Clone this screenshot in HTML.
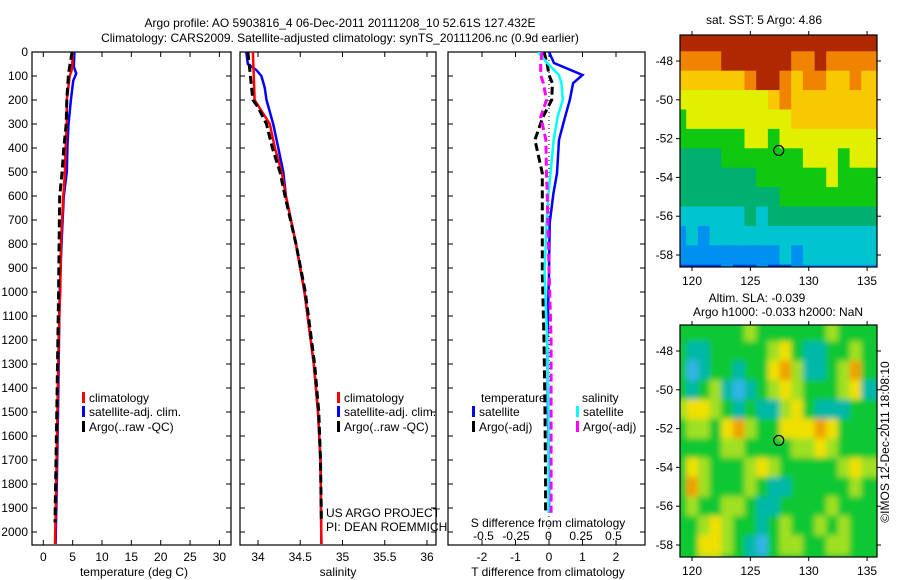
<!DOCTYPE html>
<html><head><meta charset="utf-8"><style>
html,body{margin:0;padding:0;background:#fff;}
svg{display:block;font-family:"Liberation Sans",sans-serif;}
text{font-size:12px;fill:#000;}
</style></head><body>
<svg id="fig" width="900" height="580" viewBox="0 0 900 580" xmlns="http://www.w3.org/2000/svg">
<defs>
<clipPath id="c1"><rect x="32" y="52" width="199" height="493"/></clipPath>
<clipPath id="c2"><rect x="240" y="52" width="196" height="493"/></clipPath>
<clipPath id="c3"><rect x="448" y="52" width="197" height="493"/></clipPath>
<clipPath id="cm1"><rect x="680" y="35" width="197" height="232"/></clipPath>
<clipPath id="cm2"><rect x="680" y="325" width="197" height="232"/></clipPath>
<filter id="blur" x="-5%" y="-5%" width="110%" height="110%"><feGaussianBlur stdDeviation="3"/></filter>
</defs>
<text x="340" y="27" text-anchor="middle">Argo profile: AO 5903816_4 06-Dec-2011 20111208_10 52.61S 127.432E</text>
<text x="340" y="42" text-anchor="middle">Climatology: CARS2009. Satellite-adjusted climatology: synTS_20111206.nc (0.9d earlier)</text>
<g id="root"></g>
</svg>
<script>
// ---------- data ----------
const tDepthClim = [0,70,100,200,300,400,500,600,800,1000,1050,1200,1500,1800,2050];
const tClim      = [5.0,4.9,4.5,4.0,4.0,3.8,3.7,3.4,3.0,2.9,2.8,2.6,2.4,2.2,2.0];
const tDepthSat  = [0,60,90,120,200,300,400,500,600,800,1000,1500,1800,2050];
const tSat       = [5.3,5.2,5.6,5.1,4.7,4.3,4.1,4.0,3.5,3.1,2.8,2.5,2.3,2.1];
const tDepthArgo = [0,90,200,300,400,500,600,800,1000,1500,1800,1960];
const tArgo      = [4.9,4.3,4.0,3.9,3.5,3.2,2.8,2.7,2.6,2.3,2.1,2.0];

const sDepthClim = [0,100,200,250,300,400,500,600,800,1000,1300,1500,1700,2050];
const sClim      = [33.94,33.95,33.96,34.05,34.14,34.20,34.28,34.33,34.45,34.55,34.66,34.71,34.74,34.75];
const sDepthSat  = [0,50,75,100,150,200,300,400,500,600,800,1000,1300,1500,1700,2050];
const sSat       = [33.86,33.88,33.98,34.04,34.08,34.10,34.18,34.24,34.30,34.33,34.45,34.55,34.66,34.71,34.74,34.75];
const sDepthArgo = [0,100,200,230,300,400,500,600,800,1000,1300,1500,1700,1960];
const sArgo      = [33.88,33.91,33.94,34.0,34.10,34.17,34.26,34.32,34.45,34.56,34.67,34.72,34.74,34.75];

const dDepth     = [0,46,96,130,200,270,366,505,590,713,920,1200,1500,1800,1920];
const dTSat      = [0.0,0.15,1.0,0.72,0.62,0.48,0.30,0.24,0.13,0.02,0.0,-0.05,-0.03,0.0,0.0];
const dTArgo     = [-0.15,-0.06,0.0,0.1,0.08,-0.18,-0.42,-0.2,-0.2,-0.2,-0.2,-0.15,-0.12,-0.1,-0.1];
const dSSat      = [-0.08,-0.01,0.08,0.10,0.11,0.07,0.04,0.015,0.0,-0.015,-0.03,-0.01,0.0,0.0,0.0];
const dSArgo     = [-0.05,-0.06,-0.06,-0.04,-0.015,-0.06,-0.02,-0.015,-0.01,-0.005,0.005,0.02,0.02,0.02,0.02];

const depthTicks = [0,100,200,300,400,500,600,700,800,900,1000,1100,1200,1300,1400,1500,1600,1700,1800,1900,2000];
const tempTicks = [0,5,10,15,20,25,30];
const salTicks = [34,34.5,35,35.5,36];
const salTickLabels = ["34","34.5","35","35.5","36"];
const tdTicks = [-2,-1,0,1,2];
const sdTicks = [-0.5,-0.25,0,0.25,0.5];
const sdTickLabels = ["-0.5","-0.25","0","0.25","0.5"];
const lonTicks = [120,125,130,135];
const latTicks = [-48,-50,-52,-54,-56,-58];
const argoLon = 127.43, argoLat = -52.61;

const sstGrid = [
[9,9,9,9,9,9,9,9,9,9,9,9,9,9,9,9,9],
[8,8,8,8,9,9,9,9,9,9,8,8,9,8,8,8,8],
[7,7,7,7,7,7,8,9,9,8,7,8,8,7,7,8,7],
[6,6,6,6,6,6,6,6,7,8,7,7,7,7,7,7,7],
[5,6,6,6,6,6,6,6,6,6,7,7,7,7,7,7,7],
[5,5,5,5,5,5,6,6,5,6,6,6,6,6,6,6,6],
[4,4,4,4,5,5,5,5,5,5,5,6,6,6,5,6,6],
[4,4,4,4,4,4,4,5,5,5,5,5,5,6,5,5,5],
[4,4,4,4,4,4,4,4,4,5,5,5,5,5,5,5,5],
[3,3,3,3,3,3,4,3,4,4,4,4,4,4,4,4,4],
[2,3,2,3,3,3,3,3,3,3,3,3,3,3,3,3,3],
[2,2,2,2,2,2,2,2,2,3,2,3,3,3,3,3,3],
[1,1,1,1,2,1,1,2,1,1,2,2,2,2,2,2,2],
[1,1,0,1,1,1,1,1,0,1,1,1,1,1,1,1,1]
];
const sstColors = ["#00109a","#0040e0","#0090f0","#00c4d0","#00b070","#10c810","#e0f000","#f8c800","#f08400","#b02800"];

const slaGrid = [
[2,2,2,2,2,2,3,2,2,2,2,2,2,3,2,2,2],
[2,1,1,2,2,2,2,2,3,4,2,1,1,2,2,3,2],
[2,0,1,2,2,1,2,2,4,5,3,1,1,2,3,5,2],
[2,1,2,3,1,0,1,2,3,4,3,2,2,2,3,4,1],
[3,4,4,3,2,1,2,1,1,3,4,2,1,1,1,2,2],
[2,3,3,2,4,5,3,2,2,4,4,4,5,4,2,2,2],
[2,2,2,2,3,3,2,2,2,2,3,3,4,3,2,2,2],
[2,4,3,2,2,2,3,4,3,2,2,2,2,2,3,4,3],
[2,5,3,2,2,2,3,2,1,1,2,2,2,2,2,3,2],
[2,3,2,2,3,3,2,1,1,2,2,2,2,3,2,2,2],
[2,2,3,4,3,2,2,1,2,3,2,2,3,2,3,2,2],
[2,2,4,4,3,2,1,0,2,3,3,2,2,3,3,2,2],
[2,2,3,3,2,2,1,1,2,2,2,2,2,2,2,2,2]
];
const slaColors = ["#30b4e8","#00b8a8","#10c830","#a0e020","#f0e000","#f0a000"];

// ---------- helpers ----------
const NS="http://www.w3.org/2000/svg";
const root=document.getElementById('root');
function mk(tag,attrs,parent){const e=document.createElementNS(NS,tag);for(const k in attrs)e.setAttribute(k,attrs[k]);(parent||root).appendChild(e);return e;}
const yDepth=d=>52+d*0.24;
const xT=v=>43.3+v*5.87;
const xS=v=>258+(v-34)*84.5;
const xTD=v=>549+v*33.5;
const xSD=v=>548.5+v*130;

function drawLine(xs,ds,xf,color,w,dash,clip,name){
  let p='';for(let i=0;i<xs.length;i++){p+=(i?'L':'M')+xf(xs[i]).toFixed(1)+' '+yDepth(ds[i]).toFixed(1);}
  const e=mk('path',{d:p,fill:'none',stroke:color,'stroke-width':w,'clip-path':'url(#'+clip+')'});
  if(dash)e.setAttribute('stroke-dasharray',dash);
  
  
}
function panelFrame(x0,x1,name){
  const r=mk('rect',{x:x0,y:52,width:x1-x0,height:493,fill:'none',stroke:'#000','stroke-width':1.2});
  
  
}
function text(x,y,s,anchor,name){
  const t=mk('text',{x:x,y:y,'text-anchor':anchor||'start'});t.textContent=s;
  
  
  return t;
}

// ---------- panel 1 ----------
panelFrame(32,231,'temperature-panel');
depthTicks.forEach(d=>{
  mk('line',{x1:32,x2:37,y1:yDepth(d),y2:yDepth(d),stroke:'#000'});
  mk('line',{x1:226,x2:231,y1:yDepth(d),y2:yDepth(d),stroke:'#000'});
  text(28,yDepth(d)+4,String(d),'end','depth-tick-label');
});
tempTicks.forEach(v=>{
  mk('line',{x1:xT(v),x2:xT(v),y1:540,y2:545,stroke:'#000'});
  mk('line',{x1:xT(v),x2:xT(v),y1:52,y2:57,stroke:'#000'});
  text(xT(v),561,String(v),'middle','temp-tick-label');
});
text(134,576,'temperature (deg C)','middle','temperature-axis-title');
drawLine(tSat,tDepthSat,xT,'#0000ff',2.5,null,'c1','temp-satellite-line');
drawLine(tClim,tDepthClim,xT,'#ff0000',2.5,null,'c1','temp-climatology-line');
drawLine(tArgo,tDepthArgo,xT,'#000',3,'8,4','c1','temp-argo-line');

// ---------- panel 2 ----------
panelFrame(240,436,'salinity-panel');
depthTicks.forEach(d=>{
  mk('line',{x1:240,x2:245,y1:yDepth(d),y2:yDepth(d),stroke:'#000'});
  mk('line',{x1:431,x2:436,y1:yDepth(d),y2:yDepth(d),stroke:'#000'});
});
salTicks.forEach((v,i)=>{
  mk('line',{x1:xS(v),x2:xS(v),y1:540,y2:545,stroke:'#000'});
  mk('line',{x1:xS(v),x2:xS(v),y1:52,y2:57,stroke:'#000'});
  text(xS(v),561,salTickLabels[i],'middle','salinity-tick-label');
});
text(338,576,'salinity','middle','salinity-axis-title');
drawLine(sSat,sDepthSat,xS,'#0000ff',2.5,null,'c2','salinity-satellite-line');
drawLine(sClim,sDepthClim,xS,'#ff0000',2.5,null,'c2','salinity-climatology-line');
drawLine(sArgo,sDepthArgo,xS,'#000',3,'8,4','c2','salinity-argo-line');

// ---------- panel 3 ----------
panelFrame(448,645,'difference-panel');
depthTicks.forEach(d=>{
  mk('line',{x1:448,x2:453,y1:yDepth(d),y2:yDepth(d),stroke:'#000'});
  mk('line',{x1:640,x2:645,y1:yDepth(d),y2:yDepth(d),stroke:'#000'});
});
tdTicks.forEach(v=>{
  mk('line',{x1:xTD(v),x2:xTD(v),y1:540,y2:545,stroke:'#000'});
  mk('line',{x1:xTD(v),x2:xTD(v),y1:52,y2:57,stroke:'#000'});
  text(xTD(v),561,String(v),'middle','tdiff-tick-label');
});
sdTicks.forEach((v,i)=>{ text(xSD(v),540,sdTickLabels[i],'middle','sdiff-tick-label'); });
text(548,527,'S difference from climatology','middle','sdiff-axis-title');
text(548,576,'T difference from climatology','middle','tdiff-axis-title');
const zl=mk('line',{x1:549,x2:549,y1:52,y2:545,stroke:'#000','stroke-dasharray':'1,3'});


drawLine(dTSat,dDepth,xTD,'#0000ff',2.5,null,'c3','tdiff-satellite-line');
drawLine(dTArgo,dDepth,xTD,'#000',3,'8,4','c3','tdiff-argo-line');
drawLine(dSSat,dDepth,xSD,'#00ffff',2.5,null,'c3','sdiff-satellite-line');
drawLine(dSArgo,dDepth,xSD,'#ff00ff',3,'8,4','c3','sdiff-argo-line');

// ---------- legends ----------
function legendItem(x,y,color,label,name){
  const g=mk('g',{});
  
  
  mk('rect',{x:x,y:y-10,width:3,height:11,fill:color},g);
  const t=mk('text',{x:x+7,y:y},g);t.textContent=label;
}
legendItem(82,402,'#ff0000','climatology','legend-climatology');
legendItem(82,416,'#0000ff','satellite-adj. clim.','legend-satellite');
legendItem(82,431,'#000','Argo(..raw -QC)','legend-argo');
legendItem(337,402,'#ff0000','climatology','legend-sal-climatology');
legendItem(337,416,'#0000ff','satellite-adj. clim.','legend-sal-satellite');
legendItem(337,431,'#000','Argo(..raw -QC)','legend-sal-argo');
text(481,402,'temperature','start','legend-temperature-header');
text(582,402,'salinity','start','legend-salinity-header');
legendItem(472,416,'#0000ff','satellite','legend-tdiff-satellite');
legendItem(472,431,'#000','Argo(-adj)','legend-tdiff-argo');
legendItem(576,416,'#00ffff','satellite','legend-sdiff-satellite');
legendItem(576,431,'#ff00ff','Argo(-adj)','legend-sdiff-argo');
text(326,517,'US ARGO PROJECT','start','project-credit');
text(326,531,'PI: DEAN ROEMMICH','start','pi-credit');

// ---------- maps ----------
function mapX(lon){return 680+(lon-118.97)*11.67;}
function mapLatY(lat,top){return top+(-46.66-lat)*19.4;}
function drawMap(grid,colors,top,clip,name,blur){
  const g=mk('g',{'clip-path':'url(#'+clip+')'});
  
  
  if(blur) mk('rect',{x:680,y:top,width:197,height:232,fill:colors[2]},g);
  const inner=mk('g',blur?{filter:'url(#blur)'}:{},g);
  grid.forEach((row,r)=>{
    row.forEach((v,c)=>{
      const lon0=118.5+c, lat0=-46.5-r;
      const x0=mapX(lon0), x1=mapX(lon0+1)+(c===row.length-1?12:0), y0=mapLatY(lat0,top), y1=mapLatY(lat0-1,top);
      const cell=mk('rect',{x:x0.toFixed(1),y:y0.toFixed(1),width:(x1-x0+0.6).toFixed(1),height:(y1-y0+0.6).toFixed(1),fill:colors[v]},inner);
      
      
    });
  });
  const fr=mk('rect',{x:680,y:top,width:197,height:232,fill:'none',stroke:'#000','stroke-width':1.2});
  
  
  lonTicks.forEach(l=>{
    mk('line',{x1:mapX(l),x2:mapX(l),y1:top,y2:top-4,stroke:'#000'});
    mk('line',{x1:mapX(l),x2:mapX(l),y1:top+232,y2:top+236,stroke:'#000'});
    text(mapX(l),top+250,String(l),'middle','lon-tick-label');
  });
  latTicks.forEach(l=>{
    const y=mapLatY(l,top);
    mk('line',{x1:676,x2:680,y1:y,y2:y,stroke:'#000'});
    mk('line',{x1:877,x2:881,y1:y,y2:y,stroke:'#000'});
    text(673,y+4,String(l),'end','lat-tick-label');
  });
  const c=mk('circle',{cx:mapX(argoLon),cy:mapLatY(argoLat,top),r:5,fill:'none',stroke:'#000','stroke-width':1.2});
  
  
}
drawMap(sstGrid,sstColors,35,'cm1','sst-map',false);
drawMap(slaGrid,slaColors,325,'cm2','sla-map',true);
text(764,24,'sat. SST: 5 Argo: 4.86','middle','sst-map-title');
text(757,302,'Altim. SLA: -0.039','middle','sla-map-title');
text(778,316,'Argo h1000: -0.033 h2000: NaN','middle','sla-map-subtitle');
const im=text(0,0,'©IMOS 12-Dec-2011 18:08:10','middle','imos-credit');
im.setAttribute('transform','translate(889,442) rotate(-90)');
</script>
</body></html>
